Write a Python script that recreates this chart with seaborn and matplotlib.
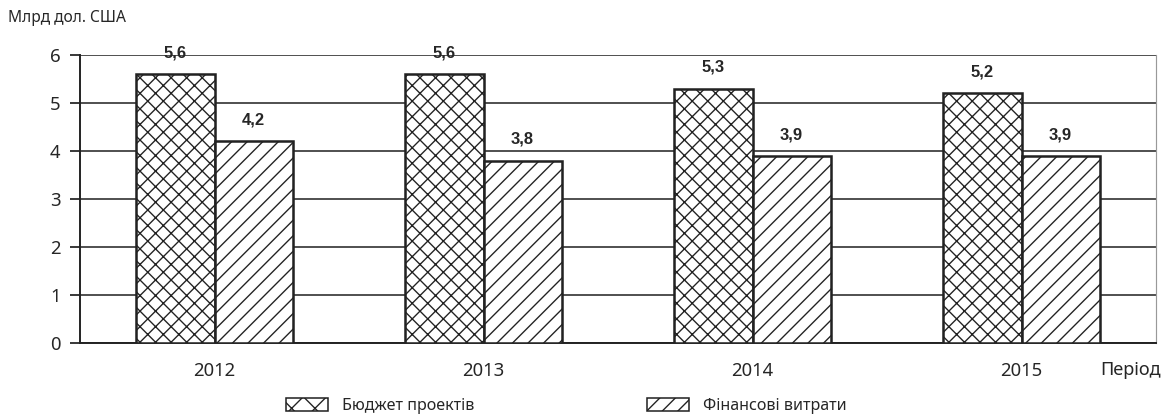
import matplotlib
matplotlib.use("Agg")
import matplotlib.pyplot as plt
import matplotlib.patches as mpatches
import pandas as pd
import seaborn as sns

# Data
years = ["2012", "2013", "2014", "2015"]
budget = [5.6, 5.6, 5.3, 5.2]
costs = [4.2, 3.8, 3.9, 3.9]
series_names = ["Бюджет проектів", "Фінансові витрати"]

df = pd.DataFrame({
    "year": years * 2,
    "value": budget + costs,
    "series": [series_names[0]] * 4 + [series_names[1]] * 4,
})

sns.set_style("white")
plt.rcParams["font.family"] = ["Noto Sans", "DejaVu Sans"]
plt.rcParams["hatch.color"] = "black"
plt.rcParams["hatch.linewidth"] = 0.7

DPI = 140
fig = plt.figure(figsize=(1170 / DPI, 417 / DPI), dpi=DPI)
ax = fig.add_axes([80 / 1170, 1 - 343 / 417, (1156 - 80) / 1170, (343 - 55) / 417])

sns.barplot(data=df, x="year", y="value", hue="series", order=years,
            hue_order=series_names, palette=["white", "white"], width=0.58,
            edgecolor="#222222", linewidth=1.3, ax=ax, legend=False, zorder=3)

hatches = ["xxx", "///"]
for cont, h in zip(ax.containers, hatches):
    for p in cont:
        p.set_hatch(h)
    ax.bar_label(cont, labels=[f"{v:.1f}".replace(".", ",") for v in cont.datavalues],
                 padding=7, fontsize=8.5, fontweight="bold",
                 family=["Liberation Sans", "DejaVu Sans"])

ax.set_ylim(0, 6)
ax.set_xlim(-0.5, 3.5)
ax.set_yticks(range(0, 7))
ax.yaxis.grid(True, color="#222222", linewidth=0.8, zorder=0)
ax.set_axisbelow(True)

# ticks between categories
ax.set_xticks([i - 0.5 for i in range(5)], minor=True)
ax.tick_params(axis="x", which="major", length=0, pad=10, labelsize=9.5)
ax.tick_params(axis="x", which="minor", length=5, width=0.9, direction="out", color="#222222")
ax.tick_params(axis="y", length=5, width=0.9, direction="out", color="#222222",
               labelsize=9.5, pad=5, left=True)

ax.spines["top"].set_visible(False)
ax.spines["left"].set_color("#222222")
ax.spines["left"].set_linewidth(1.0)
ax.spines["bottom"].set_color("#222222")
ax.spines["bottom"].set_linewidth(1.0)
ax.spines["right"].set_color("#999999")
ax.spines["right"].set_linewidth(0.6)

ax.set_xlabel("")
ax.set_ylabel("")

fig.text(8 / 1170, 1 - 18 / 417, "Млрд дол. США", fontsize=8.0, va="center", ha="left")
fig.text(1100 / 1170, 1 - 370 / 417, "Період", fontsize=9.3, va="center", ha="left")

handles = [mpatches.Patch(facecolor="white", edgecolor="#222222", hatch="xx", linewidth=0.8),
           mpatches.Patch(facecolor="white", edgecolor="#222222", hatch="///", linewidth=0.8)]
fig.legend(handles, series_names, loc="center", bbox_to_anchor=(0.484, 1 - 406 / 417),
           ncol=2, frameon=False, fontsize=8.3, handlelength=2.6, handleheight=0.8,
           handletextpad=0.85, columnspacing=10.7)

fig.savefig("out.png", dpi=DPI)
